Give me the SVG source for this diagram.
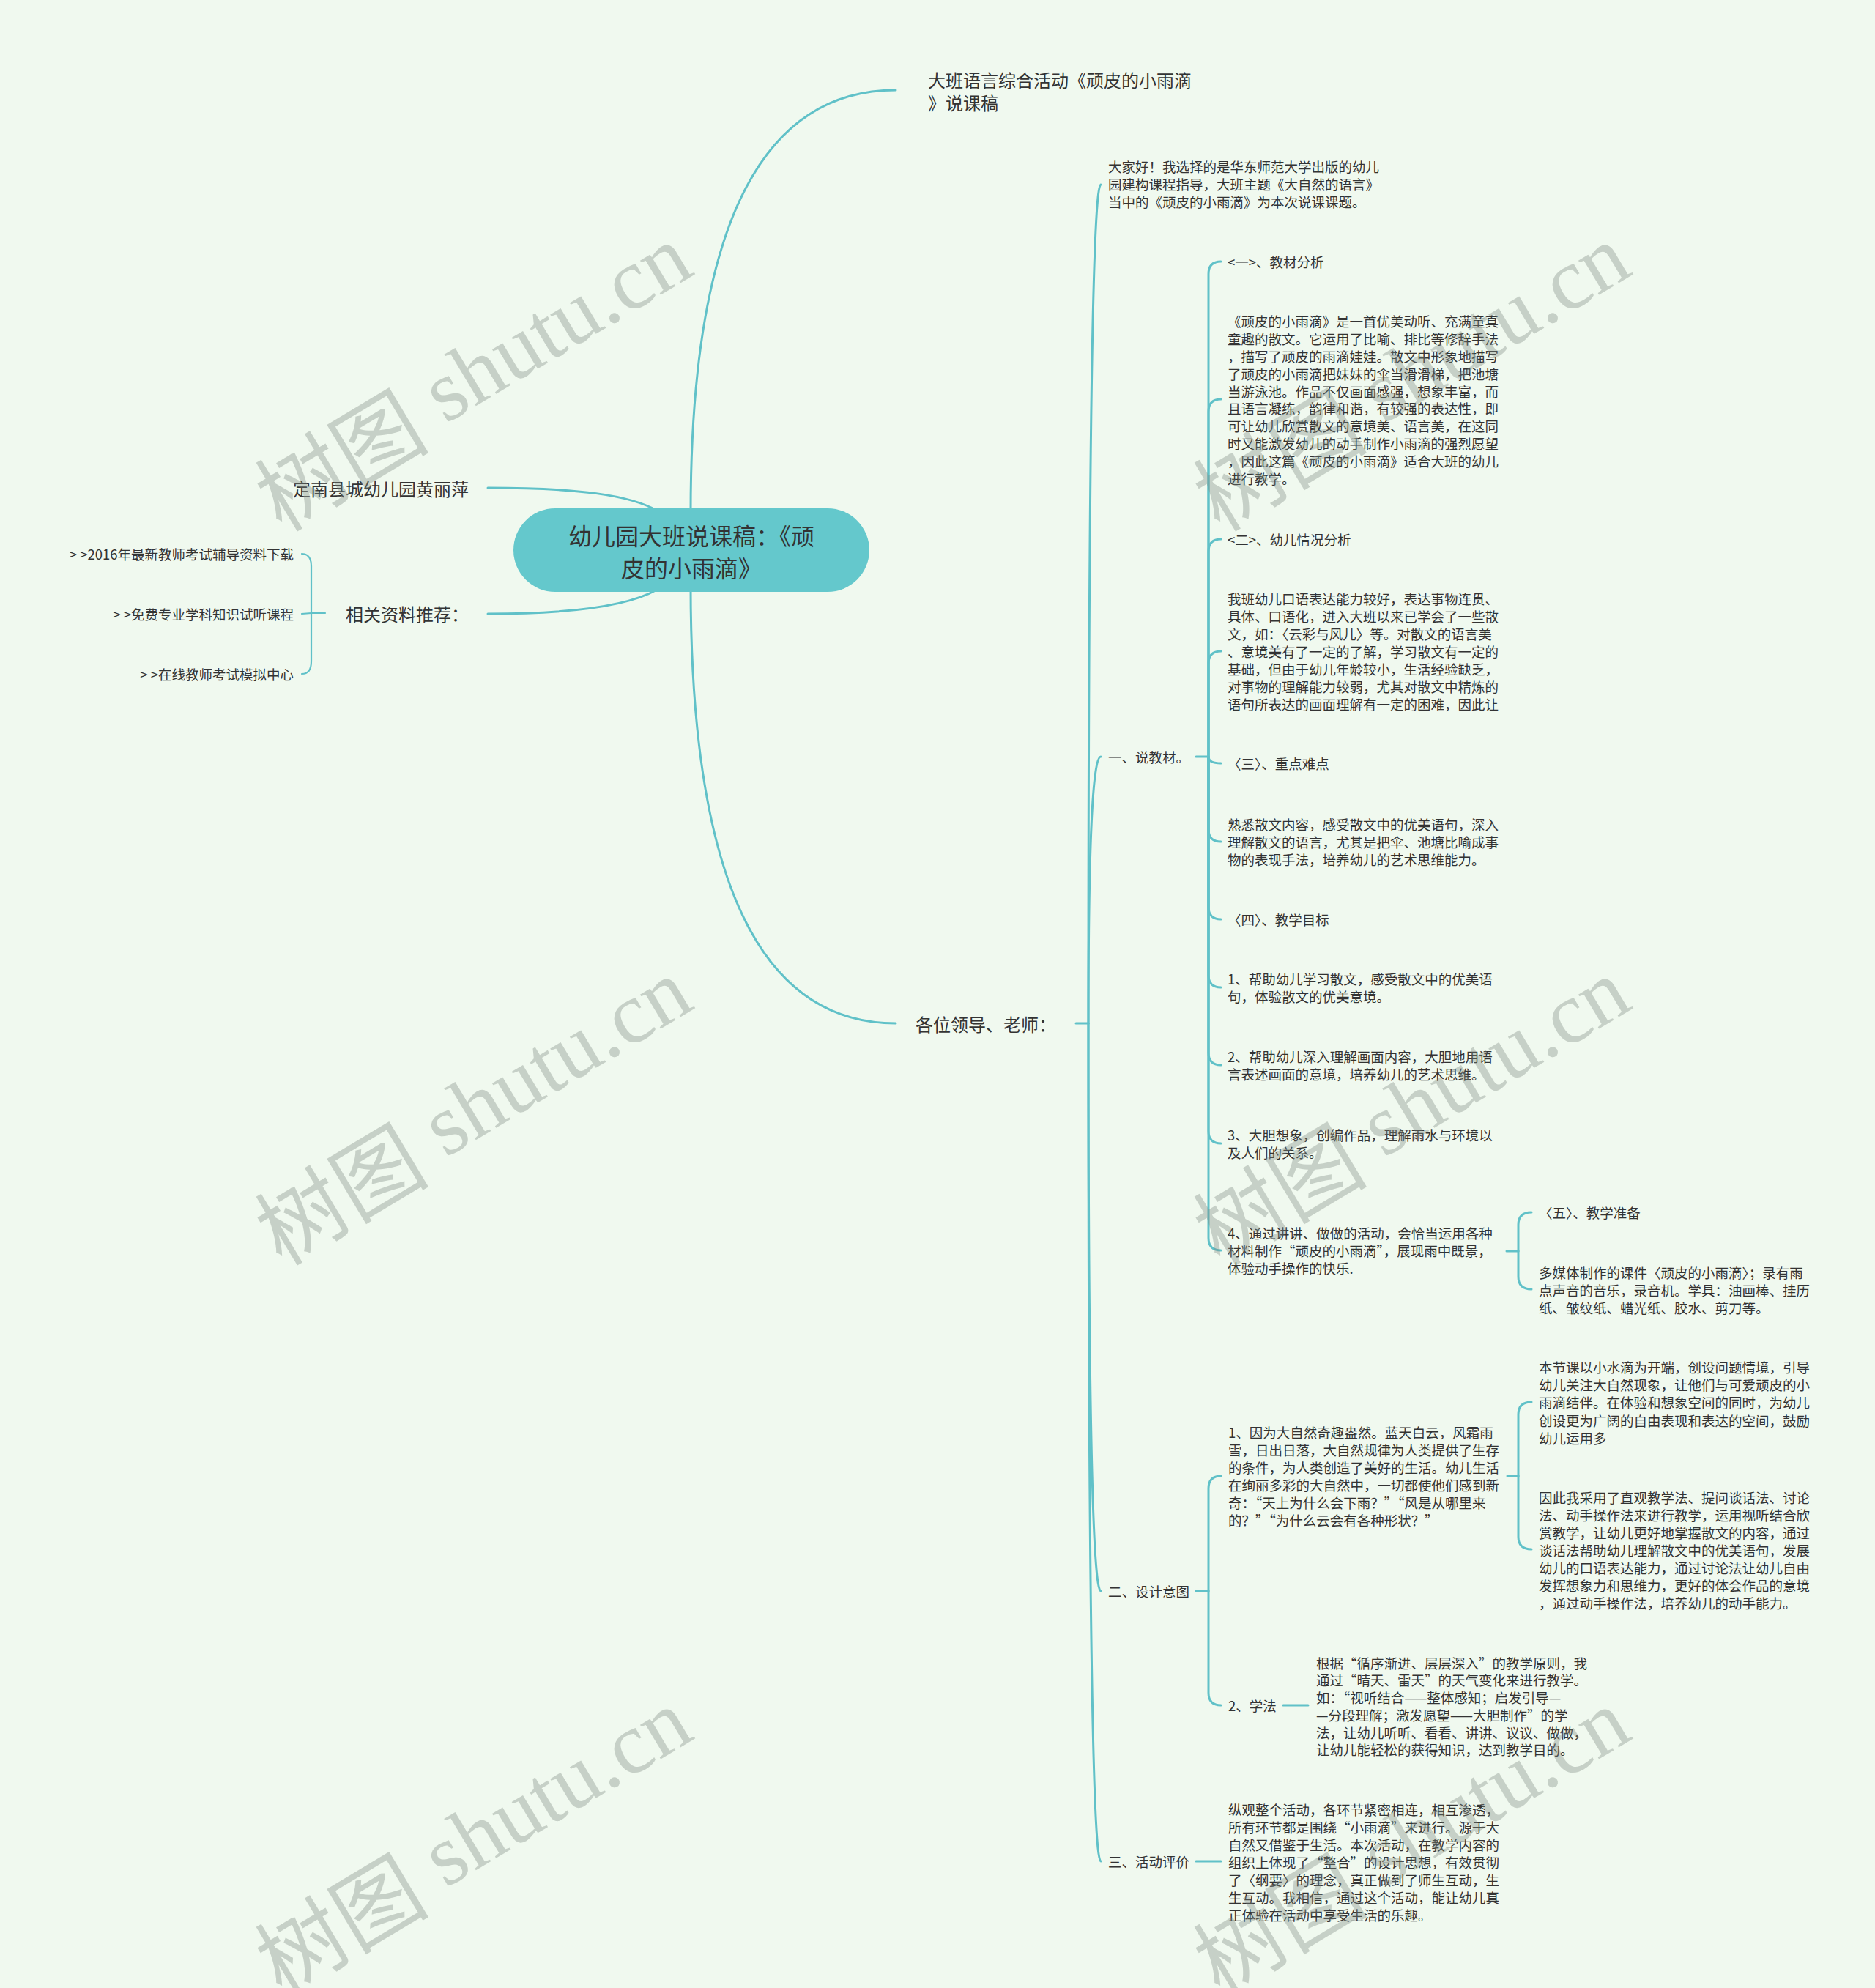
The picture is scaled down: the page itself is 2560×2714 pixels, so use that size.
<svg xmlns="http://www.w3.org/2000/svg" width="2560" height="2714" viewBox="0 0 2560 2714">
<style>
.t{font-family:"Noto Sans CJK SC","Noto Sans",sans-serif;fill:#333333;dominant-baseline:central}
.s{font-size:18.5px}
.m{font-size:24px}
.r{font-size:32px}
.l{fill:none;stroke:#60c1c8;stroke-width:3;stroke-linecap:round}
.lt{fill:none;stroke:#60c1c8;stroke-width:2.2;stroke-linecap:round}
.wm{font-size:119px;fill:#7d877f;fill-opacity:0.36;dominant-baseline:central;text-anchor:middle}
</style>
<rect x="0" y="0" width="2560" height="2714" fill="#f0f9ef"/>

<g id="connectors">
<path class="l" d="M943 700 Q943 123 1223 123"/>
<path class="l" d="M943 800 Q943 1397 1223 1397"/>
<path class="l" d="M897 697 C860 676 790 666 666 666"/>
<path class="l" d="M897 805 C860 826 790 838 666 838"/>
<path class="lt" d="M444 837 L425 837"/>
<path class="lt" d="M425 837 L425 773 Q425 756 412 756"/>
<path class="lt" d="M425 837 L412 838"/>
<path class="lt" d="M425 837 L425 903 Q425 920 412 920"/>
<path class="l" d="M1469 1397 L1486 1397"/>
<path class="l" d="M1486 1397 Q1486 252 1503 252"/>
<path class="l" d="M1486 1397 Q1486 1033 1503 1033"/>
<path class="l" d="M1486 1397 Q1486 2172 1503 2172"/>
<path class="l" d="M1486 1397 Q1486 2541 1503 2541"/>
<path class="l" d="M1633 1033 L1650 1033"/>
<path class="l" d="M1650 1033 L1650 374 Q1650 357 1667 357"/>
<path class="l" d="M1650 1033 L1650 562 Q1650 545 1667 545"/>
<path class="l" d="M1650 1033 L1650 753 Q1650 736 1667 736"/>
<path class="l" d="M1650 1033 L1650 906 Q1650 889 1667 889"/>
<path class="l" d="M1650 1033 Q1650 1042 1667 1042"/>
<path class="l" d="M1650 1033 L1650 1132 Q1650 1149 1667 1149"/>
<path class="l" d="M1650 1033 L1650 1238 Q1650 1255 1667 1255"/>
<path class="l" d="M1650 1033 L1650 1331 Q1650 1348 1667 1348"/>
<path class="l" d="M1650 1033 L1650 1437 Q1650 1454 1667 1454"/>
<path class="l" d="M1650 1033 L1650 1544 Q1650 1561 1667 1561"/>
<path class="l" d="M1650 1033 L1650 1690 Q1650 1707 1667 1707"/>
<path class="l" d="M2057 1708 L2073 1708"/>
<path class="l" d="M2073 1708 L2073 1672 Q2073 1655 2091 1655"/>
<path class="l" d="M2073 1708 L2073 1743 Q2073 1760 2091 1760"/>
<path class="l" d="M1633 2172 L1650 2172"/>
<path class="l" d="M1650 2172 L1650 2032 Q1650 2015 1667 2015"/>
<path class="l" d="M1650 2172 L1650 2311 Q1650 2328 1667 2328"/>
<path class="l" d="M2058 2015 L2073 2015"/>
<path class="l" d="M2073 2015 L2073 1931 Q2073 1914 2091 1914"/>
<path class="l" d="M2073 2015 L2073 2098 Q2073 2115 2091 2115"/>
<path class="l" d="M1752 2328 L1786 2328"/>
<path class="l" d="M1633 2541 L1667 2541"/>
</g>

<g id="root">
<rect x="701" y="694" width="486" height="114" rx="57" ry="57" fill="#64c8cc"/>
<text class="t r" text-anchor="middle"><tspan x="944" y="730">幼儿园大班说课稿：《顽</tspan><tspan x="944" y="774">皮的小雨滴》</tspan></text>
</g>

<g id="n-author"><text class="t m" x="400" y="666">定南县城幼儿园黄丽萍</text></g>
<g id="n-recommend"><text class="t m" x="472" y="837">相关资料推荐：</text></g>
<g id="n-rec1"><text class="t s" x="401" y="756" text-anchor="end">&gt; &gt;2016年最新教师考试辅导资料下载</text></g>
<g id="n-rec2"><text class="t s" x="401" y="838" text-anchor="end">&gt; &gt;免费专业学科知识试听课程</text></g>
<g id="n-rec3"><text class="t s" x="401" y="920" text-anchor="end">&gt; &gt;在线教师考试模拟中心</text></g>

<g id="n-title"><text class="t m"><tspan x="1267" y="108">大班语言综合活动《顽皮的小雨滴</tspan><tspan x="1267" y="139">》说课稿</tspan></text></g>
<g id="n-greet"><text class="t m" x="1250" y="1397">各位领导、老师：</text></g>

<g id="n-intro"><text class="t s"><tspan x="1513" y="227">大家好！我选择的是华东师范大学出版的幼儿</tspan><tspan x="1513" y="251">园建构课程指导，大班主题《大自然的语言》</tspan><tspan x="1513" y="275">当中的《顽皮的小雨滴》为本次说课课题。</tspan></text></g>
<g id="n-sec1"><text class="t s" x="1513" y="1033">一、说教材。</text></g>
<g id="n-sec2"><text class="t s" x="1513" y="2172">二、设计意图</text></g>
<g id="n-sec3"><text class="t s" x="1513" y="2541">三、活动评价</text></g>

<g id="n-a1"><text class="t s" x="1676" y="357">&lt;一&gt;、教材分析</text></g>
<g id="n-a1t"><text class="t s"><tspan x="1676" y="438">《顽皮的小雨滴》是一首优美动听、充满童真</tspan><tspan x="1676" y="462">童趣的散文。它运用了比喻、排比等修辞手法</tspan><tspan x="1676" y="486">，描写了顽皮的雨滴娃娃。散文中形象地描写</tspan><tspan x="1676" y="510">了顽皮的小雨滴把妹妹的伞当滑滑梯，把池塘</tspan><tspan x="1676" y="534">当游泳池。作品不仅画面感强，想象丰富，而</tspan><tspan x="1676" y="557">且语言凝练，韵律和谐，有较强的表达性，即</tspan><tspan x="1676" y="581">可让幼儿欣赏散文的意境美、语言美，在这同</tspan><tspan x="1676" y="605">时又能激发幼儿的动手制作小雨滴的强烈愿望</tspan><tspan x="1676" y="629">，因此这篇《顽皮的小雨滴》适合大班的幼儿</tspan><tspan x="1676" y="653">进行教学。</tspan></text></g>
<g id="n-a2"><text class="t s" x="1676" y="736">&lt;二&gt;、幼儿情况分析</text></g>
<g id="n-a2t"><text class="t s"><tspan x="1676" y="817">我班幼儿口语表达能力较好，表达事物连贯、</tspan><tspan x="1676" y="841">具体、口语化，进入大班以来已学会了一些散</tspan><tspan x="1676" y="865">文，如：〈云彩与风儿〉等。对散文的语言美</tspan><tspan x="1676" y="889">、意境美有了一定的了解，学习散文有一定的</tspan><tspan x="1676" y="913">基础，但由于幼儿年龄较小，生活经验缺乏，</tspan><tspan x="1676" y="937">对事物的理解能力较弱，尤其对散文中精炼的</tspan><tspan x="1676" y="961">语句所表达的画面理解有一定的困难，因此让</tspan></text></g>
<g id="n-a3"><text class="t s" x="1676" y="1042">〈三〉、重点难点</text></g>
<g id="n-a3t"><text class="t s"><tspan x="1676" y="1125">熟悉散文内容，感受散文中的优美语句，深入</tspan><tspan x="1676" y="1149">理解散文的语言，尤其是把伞、池塘比喻成事</tspan><tspan x="1676" y="1173">物的表现手法，培养幼儿的艺术思维能力。</tspan></text></g>
<g id="n-a4"><text class="t s" x="1676" y="1255">〈四〉、教学目标</text></g>
<g id="n-g1"><text class="t s"><tspan x="1676" y="1336">1、帮助幼儿学习散文，感受散文中的优美语</tspan><tspan x="1676" y="1360">句，体验散文的优美意境。</tspan></text></g>
<g id="n-g2"><text class="t s"><tspan x="1676" y="1442">2、帮助幼儿深入理解画面内容，大胆地用语</tspan><tspan x="1676" y="1466">言表述画面的意境，培养幼儿的艺术思维。</tspan></text></g>
<g id="n-g3"><text class="t s"><tspan x="1676" y="1549">3、大胆想象，创编作品，理解雨水与环境以</tspan><tspan x="1676" y="1573">及人们的关系。</tspan></text></g>
<g id="n-g4"><text class="t s"><tspan x="1676" y="1683">4、通过讲讲、做做的活动，会恰当运用各种</tspan><tspan x="1676" y="1707">材料制作“顽皮的小雨滴”，展现雨中既景，</tspan><tspan x="1676" y="1731">体验动手操作的快乐.</tspan></text></g>
<g id="n-a5"><text class="t s" x="2101" y="1655">〈五〉、教学准备</text></g>
<g id="n-a5t"><text class="t s"><tspan x="2101" y="1737">多媒体制作的课件〈顽皮的小雨滴〉；录有雨</tspan><tspan x="2101" y="1761">点声音的音乐，录音机。学具：油画棒、挂历</tspan><tspan x="2101" y="1785">纸、皱纹纸、蜡光纸、胶水、剪刀等。</tspan></text></g>

<g id="n-d1"><text class="t s"><tspan x="1677" y="1955">1、因为大自然奇趣盎然。蓝天白云，风霜雨</tspan><tspan x="1677" y="1979">雪，日出日落，大自然规律为人类提供了生存</tspan><tspan x="1677" y="2003">的条件，为人类创造了美好的生活。幼儿生活</tspan><tspan x="1677" y="2027">在绚丽多彩的大自然中，一切都使他们感到新</tspan><tspan x="1677" y="2051">奇：“天上为什么会下雨？”“风是从哪里来</tspan><tspan x="1677" y="2075">的？”“为什么云会有各种形状？”</tspan></text></g>
<g id="n-d1a"><text class="t s"><tspan x="2101" y="1866">本节课以小水滴为开端，创设问题情境，引导</tspan><tspan x="2101" y="1890">幼儿关注大自然现象，让他们与可爱顽皮的小</tspan><tspan x="2101" y="1914">雨滴结伴。在体验和想象空间的同时，为幼儿</tspan><tspan x="2101" y="1939">创设更为广阔的自由表现和表达的空间，鼓励</tspan><tspan x="2101" y="1963">幼儿运用多</tspan></text></g>
<g id="n-d1b"><text class="t s"><tspan x="2101" y="2044">因此我采用了直观教学法、提问谈话法、讨论</tspan><tspan x="2101" y="2068">法、动手操作法来进行教学，运用视听结合欣</tspan><tspan x="2101" y="2092">赏教学，让幼儿更好地掌握散文的内容，通过</tspan><tspan x="2101" y="2116">谈话法帮助幼儿理解散文中的优美语句，发展</tspan><tspan x="2101" y="2140">幼儿的口语表达能力，通过讨论法让幼儿自由</tspan><tspan x="2101" y="2164">发挥想象力和思维力，更好的体会作品的意境</tspan><tspan x="2101" y="2188">，通过动手操作法，培养幼儿的动手能力。</tspan></text></g>
<g id="n-d2"><text class="t s" x="1677" y="2328">2、学法</text></g>
<g id="n-d2t"><text class="t s"><tspan x="1797" y="2270">根据“循序渐进、层层深入”的教学原则，我</tspan><tspan x="1797" y="2293">通过“晴天、雷天”的天气变化来进行教学。</tspan><tspan x="1797" y="2317">如：“视听结合——整体感知；启发引导—</tspan><tspan x="1797" y="2341">—分段理解；激发愿望——大胆制作”的学</tspan><tspan x="1797" y="2365">法，让幼儿听听、看看、讲讲、议议、做做，</tspan><tspan x="1797" y="2388">让幼儿能轻松的获得知识，达到教学目的。</tspan></text></g>
<g id="n-e1"><text class="t s"><tspan x="1677" y="2470">纵观整个活动，各环节紧密相连，相互渗透，</tspan><tspan x="1677" y="2494">所有环节都是围绕“小雨滴”来进行。源于大</tspan><tspan x="1677" y="2518">自然又借鉴于生活。本次活动，在教学内容的</tspan><tspan x="1677" y="2542">组织上体现了“整合”的设计思想，有效贯彻</tspan><tspan x="1677" y="2566">了〈纲要〉的理念，真正做到了师生互动，生</tspan><tspan x="1677" y="2590">生互动。我相信，通过这个活动，能让幼儿真</tspan><tspan x="1677" y="2614">正体验在活动中享受生活的乐趣。</tspan></text></g>

<g id="watermarks">
<text class="wm" transform="translate(644 511) rotate(-31)"><tspan font-family="Noto Sans CJK SC, sans-serif">树图</tspan><tspan font-family="Liberation Serif, serif"> shutu.cn</tspan></text>
<text class="wm" transform="translate(1925 511) rotate(-31)"><tspan font-family="Noto Sans CJK SC, sans-serif">树图</tspan><tspan font-family="Liberation Serif, serif"> shutu.cn</tspan></text>
<text class="wm" transform="translate(644 1513) rotate(-31)"><tspan font-family="Noto Sans CJK SC, sans-serif">树图</tspan><tspan font-family="Liberation Serif, serif"> shutu.cn</tspan></text>
<text class="wm" transform="translate(1925 1513) rotate(-31)"><tspan font-family="Noto Sans CJK SC, sans-serif">树图</tspan><tspan font-family="Liberation Serif, serif"> shutu.cn</tspan></text>
<text class="wm" transform="translate(644 2510) rotate(-31)"><tspan font-family="Noto Sans CJK SC, sans-serif">树图</tspan><tspan font-family="Liberation Serif, serif"> shutu.cn</tspan></text>
<text class="wm" transform="translate(1925 2510) rotate(-31)"><tspan font-family="Noto Sans CJK SC, sans-serif">树图</tspan><tspan font-family="Liberation Serif, serif"> shutu.cn</tspan></text>
</g>
</svg>
